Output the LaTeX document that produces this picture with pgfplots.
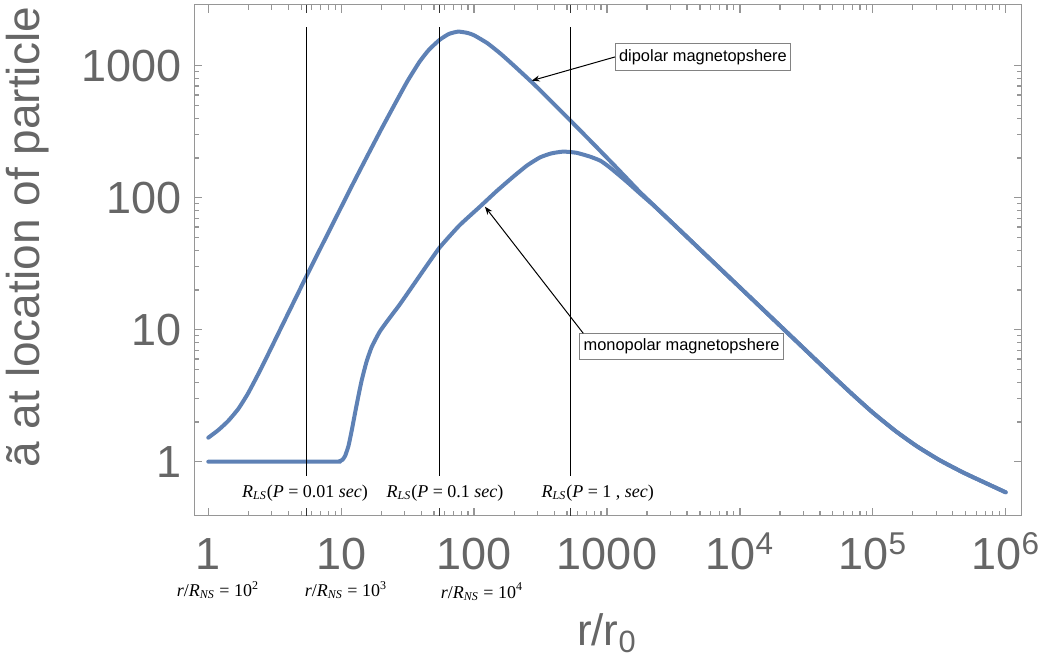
\documentclass[border=0pt]{standalone}
\usepackage{fontspec}
\setmainfont{Liberation Sans}
\newfontfamily\tnr{Liberation Serif}
\usepackage{pgfplots}
\pgfplotsset{compat=1.18}
\usetikzlibrary{arrows.meta}
\definecolor{curvec}{RGB}{94,129,181}
\definecolor{framec}{RGB}{150,150,150}
\definecolor{labc}{RGB}{102,102,102}
\definecolor{boxc}{RGB}{130,130,130}

\begin{document}
\begin{tikzpicture}
\begin{loglogaxis}[
  name=ax,
  scale only axis,
  width=413.7pt, height=255.5pt,
  xmin=0.785, xmax=1.319e6,
  ymin=0.390, ymax=2897,
  clip=false,
  axis line style={framec, line width=0.7pt},
  tick style={framec, line width=0.6pt},
  tick align=inside,
  major tick length=4pt, minor tick length=2.5pt,
  xtick={1,10,100,1000,10000,100000,1000000},
  xticklabels={1,10,100,1000,10\textsuperscript{4},10\textsuperscript{5},10\textsuperscript{6}},
  ytick={1,10,100,1000},
  yticklabels={1,10,100,1000},
  extra x ticks={5.46,55.2,534},
  extra x tick labels={},
  extra x tick style={tick style={black!80}},
  xticklabel style={anchor=base, yshift=-27pt, inner sep=0pt, font=\fontsize{22.5}{27}\selectfont, text=labc},
  yticklabel style={anchor=east, xshift=-6pt, inner sep=0pt, font=\fontsize{22.5}{27}\selectfont, text=labc},
]
% dipolar magnetosphere
\addplot[curvec, line width=2pt, line join=round, line cap=round, smooth, tension=0.3] coordinates {
(1,1.5205) (1.1885,1.7338) (1.4125,2.0370) (1.6827,2.5119) (1.9953,3.3037)
(2.5119,5.1404) (3.5481,10.447) (5.4325,25.003) (7.9983,54.200) (12.023,122.46)
(14.791,183.65) (19.953,327.34) (26.303,548.28) (31.623,767.36) (38.905,1071.5)
(45.709,1318.3) (54.954,1566.8) (64.565,1737.8) (75.858,1811.3) (89.125,1770.1)
(100,1698.2) (125.89,1479.1) (158.49,1230.3) (199.53,1000) (281.84,724.44)
(398.11,512.86) (524.81,388.15) (794.33,254.10) (1122.0,177.83) (1412.5,139.64)
(1778.3,109.65) (2238.7,87.90) (3162.3,63.096) (5623.4,36.308) (10000,20.893)
(17783,12.023) (31623,6.9183) (50119,4.4463) (70795,3.2137) (100000,2.3550)
(147910,1.7100) (213800,1.3122) (316230,1.0304) (478630,0.82794) (707950,0.68865)
(1000000,0.58614)
};
% monopolar magnetosphere
\addplot[curvec, line width=2pt, line join=round, line cap=round, smooth, tension=0.3] coordinates {
(1,1) (8.9125,1) (9.6605,1.0069) (10.233,1.0351) (10.715,1.1092) (11.350,1.3183)
(12.023,1.7378) (12.706,2.3281) (13.490,3.1623) (14.256,4.1210) (15.488,5.6885)
(16.982,7.4131) (19.498,9.6605) (22.594,11.885) (27.542,15.488) (33.884,20.893)
(43.652,30.200) (55.335,42.170) (77.625,61.660) (110.66,85.507) (147.91,112.20)
(197.24,144.21) (251.19,175.79) (313.33,201.84) (380.19,216.27) (468.81,223.36)
(588.84,218.78) (744.73,204.64) (891.25,190.55) (1000,175.79) (1122.0,160.32)
(1412.5,131.83) (1778.3,107.15) (2238.7,87.498) (3162.3,63.096) (5623.4,36.308)
(10000,20.893) (17783,12.023) (31623,6.9183) (50119,4.4463) (70795,3.2137)
(100000,2.3550) (147910,1.7100) (213800,1.3122) (316230,1.0304) (478630,0.82794)
(707950,0.68865) (1000000,0.58614)
};
% light-cylinder radii
\addplot[black, line width=0.55pt] coordinates {(5.46,0.783) (5.46,1950)};
\addplot[black, line width=0.55pt] coordinates {(55.2,0.783) (55.2,1950)};
\addplot[black, line width=0.55pt] coordinates {(534,0.783) (534,1950)};

\node[font=\tnr\fontsize{9}{10}\selectfont] at (rel axis cs:0.1338,0.0444) {\textit{R}\textsubscript{\textit{LS}}(\textit{P} = 0.01 \textit{sec})};
\node[font=\tnr\fontsize{9}{10}\selectfont] at (rel axis cs:0.303,0.0444) {\textit{R}\textsubscript{\textit{LS}}(\textit{P} = 0.1 \textit{sec})};
\node[font=\tnr\fontsize{9}{10}\selectfont] at (rel axis cs:0.4877,0.0444) {\textit{R}\textsubscript{\textit{LS}}(\textit{P} = 1 , \textit{sec})};

\node[font=\tnr\fontsize{9}{10}\selectfont] at (rel axis cs:0.0286,-0.1454) {\textit{r}/\textit{R}\textsubscript{\textit{NS}} = 10\textsuperscript{2}};
\node[font=\tnr\fontsize{9}{10}\selectfont] at (rel axis cs:0.1833,-0.1454) {\textit{r}/\textit{R}\textsubscript{\textit{NS}} = 10\textsuperscript{3}};
\node[font=\tnr\fontsize{9}{10}\selectfont] at (rel axis cs:0.3477,-0.149) {\textit{r}/\textit{R}\textsubscript{\textit{NS}} = 10\textsuperscript{4}};

\node[rotate=90, text=labc, font=\fontsize{23}{27}\selectfont] at (rel axis cs:-0.201,0.545) {ã at location of particle};
\node[text=labc, font=\fontsize{22}{26}\selectfont] at (rel axis cs:0.4986,-0.2295) {r/r\textsubscript{0}};

\node[draw=boxc, fill=white, line width=0.5pt, inner xsep=2pt, inner ysep=0pt, minimum height=13.5pt, font=\fontsize{8.2}{10}\selectfont] at (rel axis cs:0.6148,0.8967) {dipolar magnetopshere};
\draw[-{Stealth[length=4pt,width=3pt]}, line width=0.5pt] (rel axis cs:0.5085,0.8977) -- (rel axis cs:0.4078,0.8513);

\node[draw=boxc, fill=white, line width=0.5pt, inner xsep=2pt, inner ysep=0pt, minimum height=12.7pt, font=\fontsize{8.2}{10}\selectfont] at (rel axis cs:0.589,0.3307) {monopolar magnetopshere};
\draw[-{Stealth[length=4pt,width=3pt]}, line width=0.5pt] (rel axis cs:0.4701,0.3569) -- (rel axis cs:0.3513,0.6047);
\end{loglogaxis}
\pgfresetboundingbox
\path (ax.south west) ++(-97.15pt,-70.15pt) rectangle ++(521pt,328pt);
\end{tikzpicture}
\end{document}
